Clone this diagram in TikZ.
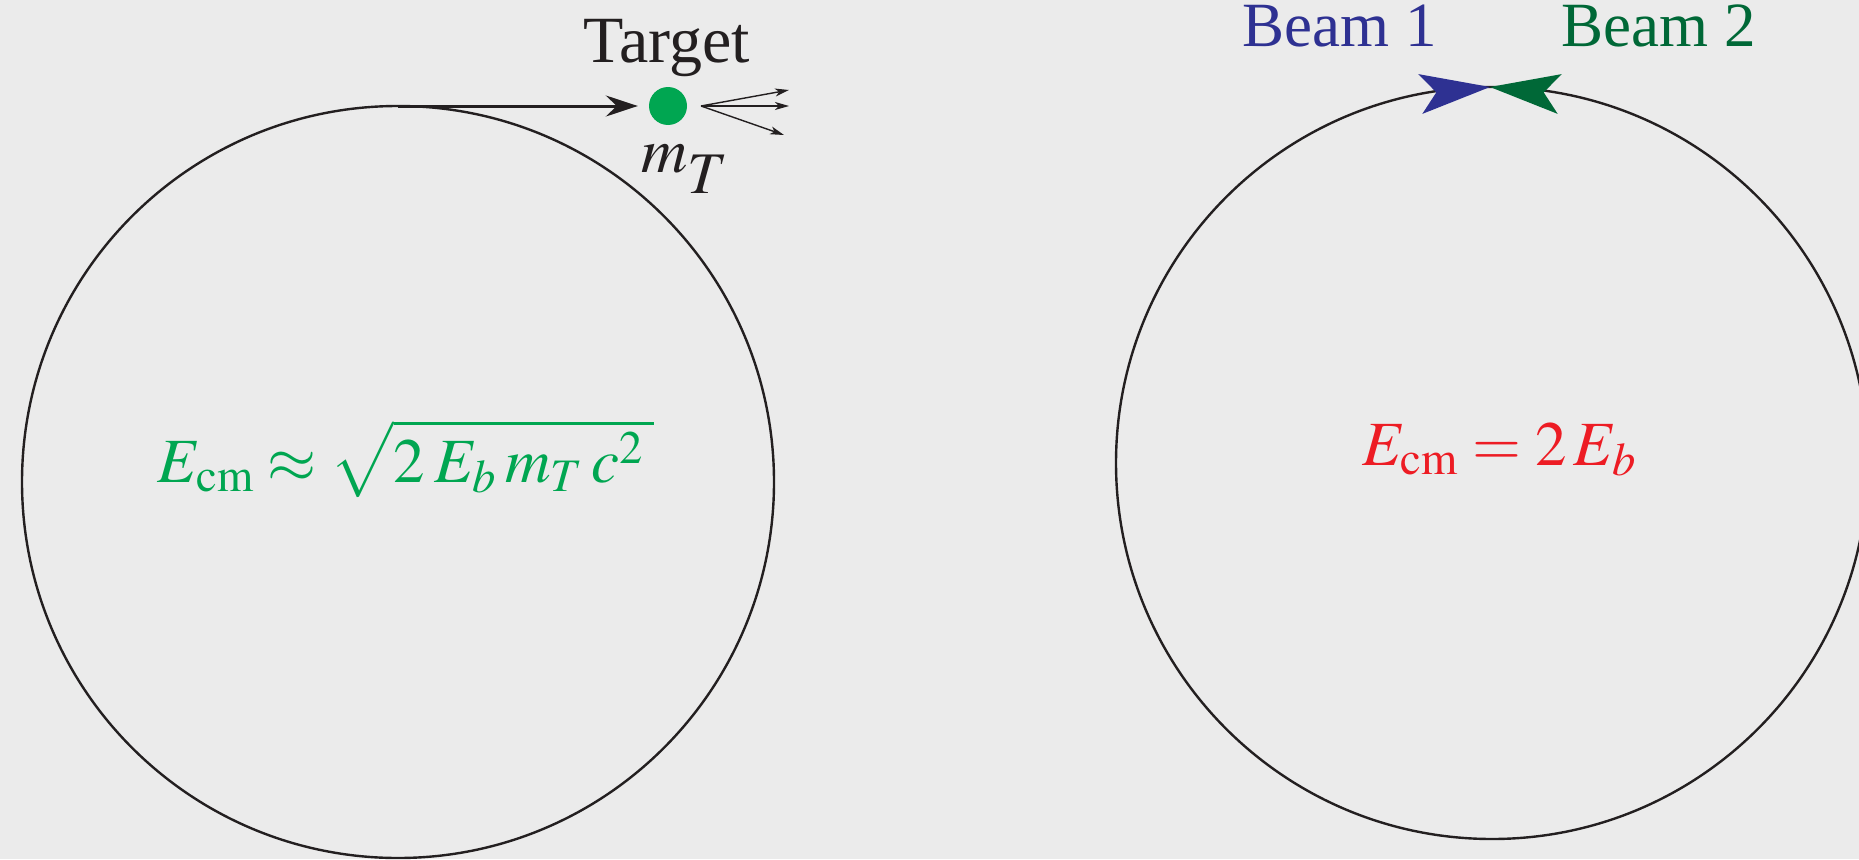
\documentclass[tikz,border=0pt]{standalone}
\usepackage{mathptmx}
\usepackage[no-math]{fontspec}
\setmainfont{Liberation Serif}
\usetikzlibrary{arrows.meta}
\definecolor{bg}{RGB}{235,235,235}
\definecolor{ink}{RGB}{35,31,32}
\definecolor{dotgreen}{RGB}{0,166,81}
\definecolor{beamblue}{RGB}{46,49,146}
\definecolor{beamgreen}{RGB}{0,104,55}
\definecolor{formred}{RGB}{237,28,36}
\tikzset{
  ring/.style={circle, draw=ink, line width=2.4pt, inner sep=0pt, minimum size=752pt},
  bigtext/.style={inner sep=0pt, font=\fontsize{63}{70}\selectfont},
  mainarrow/.style={draw=ink, line width=3pt, -{Stealth[length=32pt, width=21pt, inset=11pt]}},
  sprayarrow/.style={draw=ink, line width=1.4pt, -{Stealth[length=14pt, width=8pt, inset=4pt]}},
}
\begin{document}
\begin{tikzpicture}[x=1pt, y=-1pt]
\fill[bg] (0,0) rectangle (1859,859);
\useasboundingbox (0,0) rectangle (1859,859);

% left ring: fixed target
\node[ring] (ring1) at (398,482) {};
\coordinate (ltop) at (398,106);
\node[circle, fill=dotgreen, inner sep=0pt, minimum size=38pt] (target) at (668,106) {};
\draw[mainarrow] (ltop) -- ([xshift=-11pt]target.west);
\coordinate (spray) at (701,106);
\coordinate (s1) at (789,90);
\coordinate (s2) at (789,106);
\coordinate (s3) at (784,135);
\draw[sprayarrow] (spray) -- (s1);
\draw[sprayarrow] (spray) -- (s2);
\draw[sprayarrow] (spray) -- (s3);
\node[inner sep=0pt, text=ink, anchor=base, font=\fontsize{66}{72}\selectfont] (targetlbl) at (667,63) {Target};
\node[inner sep=0pt, anchor=base west, text=ink] (mT) at (641,172)
  {\fontsize{64}{70}\selectfont$m$\raisebox{-21pt}{\fontsize{59}{60}\selectfont$T$}};
\node[bigtext, text=dotgreen, anchor=base] (f1) at (406,482)
  {$E_{\mathrm{cm}}\approx\sqrt{2\:E_b\:m_T\:c^2\mkern3mu}$};

% right ring: colliding beams
\node[ring] (ring2) at (1492,463) {};
\coordinate (meet) at (1490,87);
\fill[beamblue] (meet) -- (1418.3,74.1) -- (1436.3,92.4) -- (1422.3,113.9) -- cycle;
\fill[beamgreen] (meet) -- (1561.7,74.1) -- (1543.7,92.4) -- (1557.7,113.9) -- cycle;
\node[bigtext, text=beamblue, anchor=base] (beam1) at (1340,47) {Beam 1};
\node[bigtext, text=beamgreen, anchor=base] (beam2) at (1659,47) {Beam 2};
\node[bigtext, text=formred, anchor=base] (f2) at (1499,465)
  {$E_{\mathrm{cm}} = 2\,E_b$};
\end{tikzpicture}
\end{document}
